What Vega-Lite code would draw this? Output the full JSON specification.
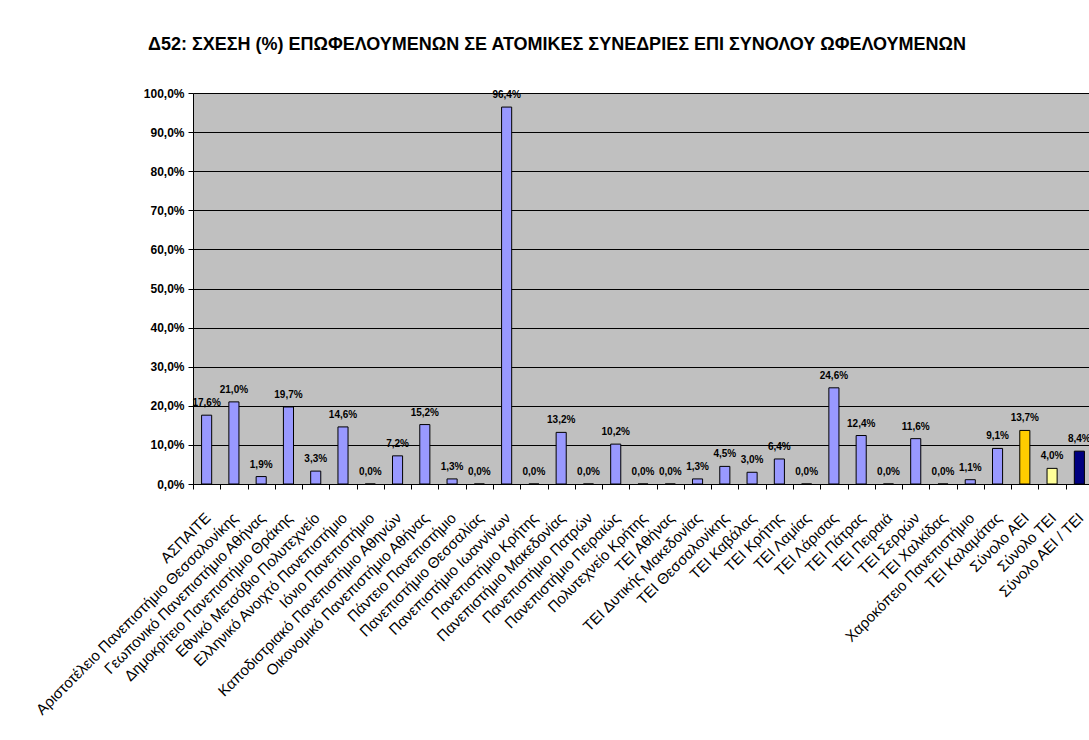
{
  "$schema": "https://vega.github.io/schema/vega-lite/v6.json",
  "width": 900,
  "height": 391,
  "autosize": {"type": "none"},
  "padding": {"left": 193, "top": 93, "right": 0, "bottom": 256},
  "background": "white",
  "title": {
    "text": "Δ52: ΣΧΕΣΗ (%) ΕΠΩΦΕΛΟΥΜΕΝΩΝ ΣΕ ΑΤΟΜΙΚΕΣ ΣΥΝΕΔΡΙΕΣ ΕΠΙ ΣΥΝΟΛΟΥ ΩΦΕΛΟΥΜΕΝΩΝ",
    "font": "Liberation Sans",
    "fontSize": 18,
    "fontWeight": "bold",
    "color": "black",
    "anchor": "middle",
    "frame": "group",
    "dx": -86,
    "offset": 33
  },
  "config": {
    "locale": {"number": {"decimal": ",", "thousands": ".", "grouping": [3], "currency": ["", "€"]}},
    "view": {"fill": "#C0C0C0", "stroke": null}
  },
  "data": {
    "values": [
      {"inst": "ΑΣΠΑΙΤΕ", "v": 0.176, "g": "b"},
      {"inst": "Αριστοτέλειο Πανεπιστήμιο Θεσσαλονίκης", "v": 0.210, "g": "b"},
      {"inst": "Γεωπονικό Πανεπιστήμιο Αθήνας", "v": 0.019, "g": "b"},
      {"inst": "Δημοκρίτειο Πανεπιστήμιο Θράκης", "v": 0.197, "g": "b"},
      {"inst": "Εθνικό Μετσόβιο Πολυτεχνείο", "v": 0.033, "g": "b"},
      {"inst": "Ελληνικό Ανοιχτό Πανεπιστήμιο", "v": 0.146, "g": "b"},
      {"inst": "Ιόνιο Πανεπιστήμιο", "v": 0.0, "g": "b"},
      {"inst": "Καποδιστριακό Πανεπιστήμιο Αθηνών", "v": 0.072, "g": "b"},
      {"inst": "Οικονομικό Πανεπιστήμιο Αθήνας", "v": 0.152, "g": "b"},
      {"inst": "Πάντειο Πανεπιστήμιο", "v": 0.013, "g": "b"},
      {"inst": "Πανεπιστήμιο Θεσσαλίας", "v": 0.0, "g": "b"},
      {"inst": "Πανεπιστήμιο Ιωαννίνων", "v": 0.964, "g": "b"},
      {"inst": "Πανεπιστήμιο Κρήτης", "v": 0.0, "g": "b"},
      {"inst": "Πανεπιστήμιο Μακεδονίας", "v": 0.132, "g": "b"},
      {"inst": "Πανεπιστήμιο Πατρών", "v": 0.0, "g": "b"},
      {"inst": "Πανεπιστήμιο Πειραιώς", "v": 0.102, "g": "b"},
      {"inst": "Πολυτεχνείο Κρήτης", "v": 0.0, "g": "b"},
      {"inst": "ΤΕΙ Αθήνας", "v": 0.0, "g": "b"},
      {"inst": "ΤΕΙ Δυτικής Μακεδονίας", "v": 0.013, "g": "b"},
      {"inst": "ΤΕΙ Θεσσαλονίκης", "v": 0.045, "g": "b"},
      {"inst": "ΤΕΙ Καβάλας", "v": 0.030, "g": "b"},
      {"inst": "ΤΕΙ Κρήτης", "v": 0.064, "g": "b"},
      {"inst": "ΤΕΙ Λαμίας", "v": 0.0, "g": "b"},
      {"inst": "ΤΕΙ Λάρισας", "v": 0.246, "g": "b"},
      {"inst": "ΤΕΙ Πάτρας", "v": 0.124, "g": "b"},
      {"inst": "ΤΕΙ Πειραιά", "v": 0.0, "g": "b"},
      {"inst": "ΤΕΙ Σερρών", "v": 0.116, "g": "b"},
      {"inst": "ΤΕΙ Χαλκίδας", "v": 0.0, "g": "b"},
      {"inst": "Χαροκόπειο Πανεπιστήμιο", "v": 0.011, "g": "b"},
      {"inst": "ΤΕΙ Καλαμάτας", "v": 0.091, "g": "b"},
      {"inst": "Σύνολο ΑΕΙ", "v": 0.137, "g": "aei"},
      {"inst": "Σύνολο ΤΕΙ", "v": 0.040, "g": "tei"},
      {"inst": "Σύνολο ΑΕΙ / ΤΕΙ", "v": 0.084, "g": "all"}
    ]
  },
  "encoding": {
    "x": {
      "field": "inst",
      "type": "nominal",
      "sort": null,
      "scale": {"paddingInner": 0, "paddingOuter": 0},
      "axis": {
        "title": null,
        "labelAngle": -45,
        "labelAlign": "right",
        "labelBaseline": "middle",
        "labelFont": "Liberation Sans",
        "labelFontSize": 15,
        "labelColor": "black",
        "labelPadding": 26,
        "labelOffset": 1,
        "labelLimit": 0,
        "labelOverlap": false,
        "labelBound": false,
        "tickBand": "extent",
        "tickSize": 5,
        "tickColor": "black",
        "domainColor": "black"
      }
    },
    "y": {
      "field": "v",
      "type": "quantitative",
      "scale": {"domain": [0, 1]},
      "axis": {
        "title": null,
        "values": [0, 0.1, 0.2, 0.3, 0.4, 0.5, 0.6, 0.7, 0.8, 0.9, 1],
        "format": ".1%",
        "labelFont": "Liberation Sans",
        "labelFontSize": 12,
        "labelFontWeight": "bold",
        "labelColor": "black",
        "labelPadding": 4,
        "tickSize": 5,
        "tickColor": "black",
        "domainColor": "black",
        "gridColor": "black",
        "gridOpacity": 1,
        "gridWidth": 1
      }
    }
  },
  "layer": [
    {
      "mark": {"type": "bar", "stroke": "black", "strokeWidth": 1, "width": {"band": 0.37}},
      "encoding": {
        "color": {
          "field": "g",
          "type": "nominal",
          "scale": {"domain": ["b", "aei", "tei", "all"], "range": ["#9999FF", "#FFCC00", "#FFFF99", "#000080"]},
          "legend": null
        }
      }
    },
    {
      "mark": {"type": "text", "font": "Liberation Sans", "fontSize": 10, "fontWeight": "bold", "color": "black", "baseline": "alphabetic", "dy": -9},
      "encoding": {
        "text": {"field": "v", "type": "quantitative", "format": ".1%"}
      }
    }
  ]
}
